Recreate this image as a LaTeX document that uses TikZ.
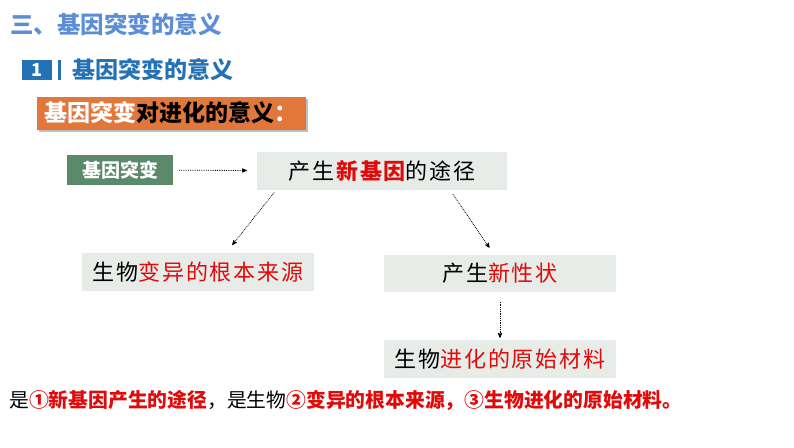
\documentclass[tikz,border=0pt]{standalone}
\usepackage{fontspec}
\setmainfont{Noto Sans CJK SC}
\usetikzlibrary{arrows,positioning,shadows}
\definecolor{titleblue}{HTML}{5B8ED6}
\definecolor{headblue}{HTML}{2472B5}
\definecolor{tagorange}{HTML}{E2773C}
\definecolor{genegreen}{HTML}{5A8A6A}
\definecolor{panegray}{HTML}{E7ECE8}
\definecolor{keyred}{HTML}{E00A0A}
\newcommand{\fs}[1]{\fontsize{#1}{#1}\selectfont}
\newcommand{\hl}[1]{\textcolor{keyred}{#1}}
\tikzset{x=1pt,y=-1pt,>=stealth',
  pane/.style={fill=panegray,minimum width=232pt,minimum height=38pt,inner sep=0pt,
    font=\fs{22}\addfontfeature{LetterSpace=8}},
  flow/.style={->,densely dotted,thick}}

\begin{document}
\begin{tikzpicture}
  \useasboundingbox (0,0) rectangle (794,447);

  \node[anchor=west,text=titleblue,font=\fs{23.5}\bfseries,inner sep=0pt] (title) at (10,24) {三、基因突变的意义};

  \node[fill=headblue,text=white,font=\fs{18}\bfseries,minimum width=30pt,minimum height=20pt,inner sep=0pt] (num) at (37,70) {1};
  \fill[headblue] (58,60) rectangle (61,80);
  \node[anchor=west,text=headblue,font=\fs{23}\bfseries] (head) at (69,70) {基因突变的意义};

  \node[fill=tagorange,drop shadow,minimum width=269pt,minimum height=33pt,inner sep=0pt,font=\fs{23}\bfseries] (tag) at (171,113)
    {\textcolor{white}{基因突变}对进化的意义\textcolor{white}{：}};

  \node[fill=genegreen,text=white,font=\fs{19}\bfseries,minimum width=106pt,minimum height=30pt,inner sep=0pt] (gene) at (120,170) {基因突变};
  \node[pane,minimum width=250pt] (way) at (382,171) {产生\textbf{\hl{新基因}}的途径};
  \node[pane] (source) at (198,272) {生物\hl{变异的根本来源}};
  \node[pane,minimum height=37pt] (trait) at (500,273) {产生\hl{新性状}};
  \node[pane] (material) at (500,359) {生物\hl{进化的原始材料}};

  \path
  (gene) edge[flow,shorten <=6pt,shorten >=10pt] (way)
  ([xshift=-106pt]way.south) edge[flow,shorten <=3pt,shorten >=10pt] ([xshift=28pt]source.north)
  ([xshift=68pt]way.south) edge[flow,shorten <=5pt,shorten >=8pt] ([xshift=-6pt]trait.north)
  (trait) edge[flow,shorten <=10pt,shorten >=2pt] (material)
  ;

  \node[anchor=west,font=\fs{19.8},inner sep=0pt] (summary) at (9,400)
    {是\textbf{\hl{①新基因产生的途径}}，是生物\textbf{\hl{②变异的根本来源，③生物进化的原始材料。}}};
\end{tikzpicture}
\end{document}
